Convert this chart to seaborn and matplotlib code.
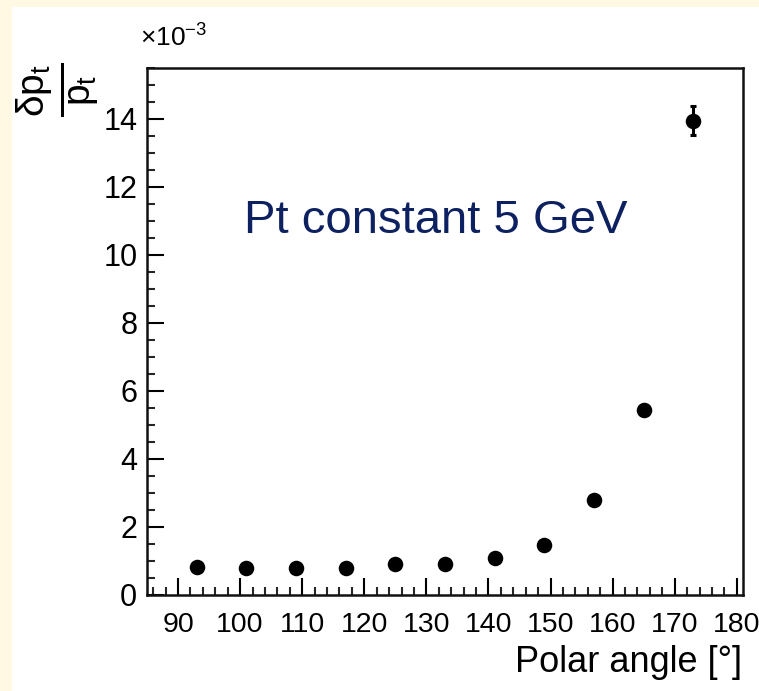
import matplotlib
matplotlib.use("Agg")
import matplotlib.pyplot as plt
from matplotlib.patches import Rectangle
from matplotlib.ticker import MultipleLocator
import seaborn as sns
import pandas as pd

# ---- data ----
polar_angle = [93, 101, 109, 117, 125, 133, 141, 149, 157, 165, 173]
resolution = [0.82, 0.80, 0.80, 0.79, 0.90, 0.91, 1.09, 1.47, 2.80, 5.44, 13.95]
resolution_err = [0.02, 0.02, 0.02, 0.02, 0.02, 0.02, 0.03, 0.04, 0.06, 0.10, 0.43]
x_ticks = [90, 100, 110, 120, 130, 140, 150, 160, 170, 180]
y_ticks = [0, 2, 4, 6, 8, 10, 12, 14]
annotation = "Pt constant 5 GeV"
x_label = "Polar angle [°]"
y_label = r"$\mathregular{\frac{\delta p_t}{p_t}}$"
scale_label = r"×10$^{\mathregular{-3}}$"

df = pd.DataFrame({"angle": polar_angle, "res": resolution, "err": resolution_err})

sns.set_theme(style="ticks")
fam = ["Liberation Sans", "DejaVu Sans"]
plt.rcParams["font.family"] = fam
plt.rcParams["mathtext.fontset"] = "custom"
plt.rcParams["mathtext.rm"] = "Liberation Sans"
plt.rcParams["mathtext.it"] = "Liberation Sans"
plt.rcParams["mathtext.sf"] = "Liberation Sans"

cream = "#FFF9E3"
fig = plt.figure(figsize=(7.59, 6.91), dpi=100, facecolor=cream)
fig.patches.append(Rectangle((12 / 759, 0), 1 - 12 / 759, 1 - 7 / 691,
                             transform=fig.transFigure, facecolor="white",
                             edgecolor="none", zorder=-10))
ax = fig.add_axes([147 / 759, 1 - 595 / 691, (743 - 147) / 759, (595 - 68) / 691])
ax.set_facecolor("white")

ax.errorbar(df["angle"], df["res"], yerr=df["err"], fmt="none", ecolor="black",
            elinewidth=2.2, capsize=2.5, capthick=2.2, zorder=2)
sns.scatterplot(data=df, x="angle", y="res", ax=ax, color="black", s=125,
                marker="o", edgecolor="black", linewidth=0, zorder=3, legend=False)

ax.set_xlim(85, 181)
ax.set_ylim(0, 15.5)
ax.set_xticks(x_ticks)
ax.set_yticks(y_ticks)
ax.xaxis.set_minor_locator(MultipleLocator(2))
ax.yaxis.set_minor_locator(MultipleLocator(0.5))
ax.tick_params(axis="both", which="major", direction="in", length=12, width=1.5,
               colors="black")
ax.tick_params(axis="x", which="major", labelsize=20.5)
ax.tick_params(axis="y", which="major", labelsize=22)
ax.tick_params(axis="both", which="minor", direction="in", length=6, width=1.5)
ax.tick_params(axis="x", which="both", top=False, bottom=True, pad=12)
ax.tick_params(axis="y", which="both", left=True, right=False, pad=7)
for sp in ax.spines.values():
    sp.set_linewidth(1.8)
    sp.set_color("#111111")

ax.set_xlabel("")
ax.set_ylabel("")
fig.text(742 / 759, 1 - 672 / 691, x_label, ha="right", va="baseline",
         fontsize=26, color="black")
fig.text(58 / 759, 1 - 90 / 691, y_label, ha="center", va="center",
         rotation=90, fontsize=40, color="black")
fig.text(140 / 759, 1 - 47 / 691, scale_label, ha="left", va="baseline",
         fontsize=19, color="black")
ax.text(131.5, 11.0, annotation, ha="center", va="center", fontsize=34,
        color="#0D2160")

fig.savefig("out.png", dpi=100, facecolor=cream)
